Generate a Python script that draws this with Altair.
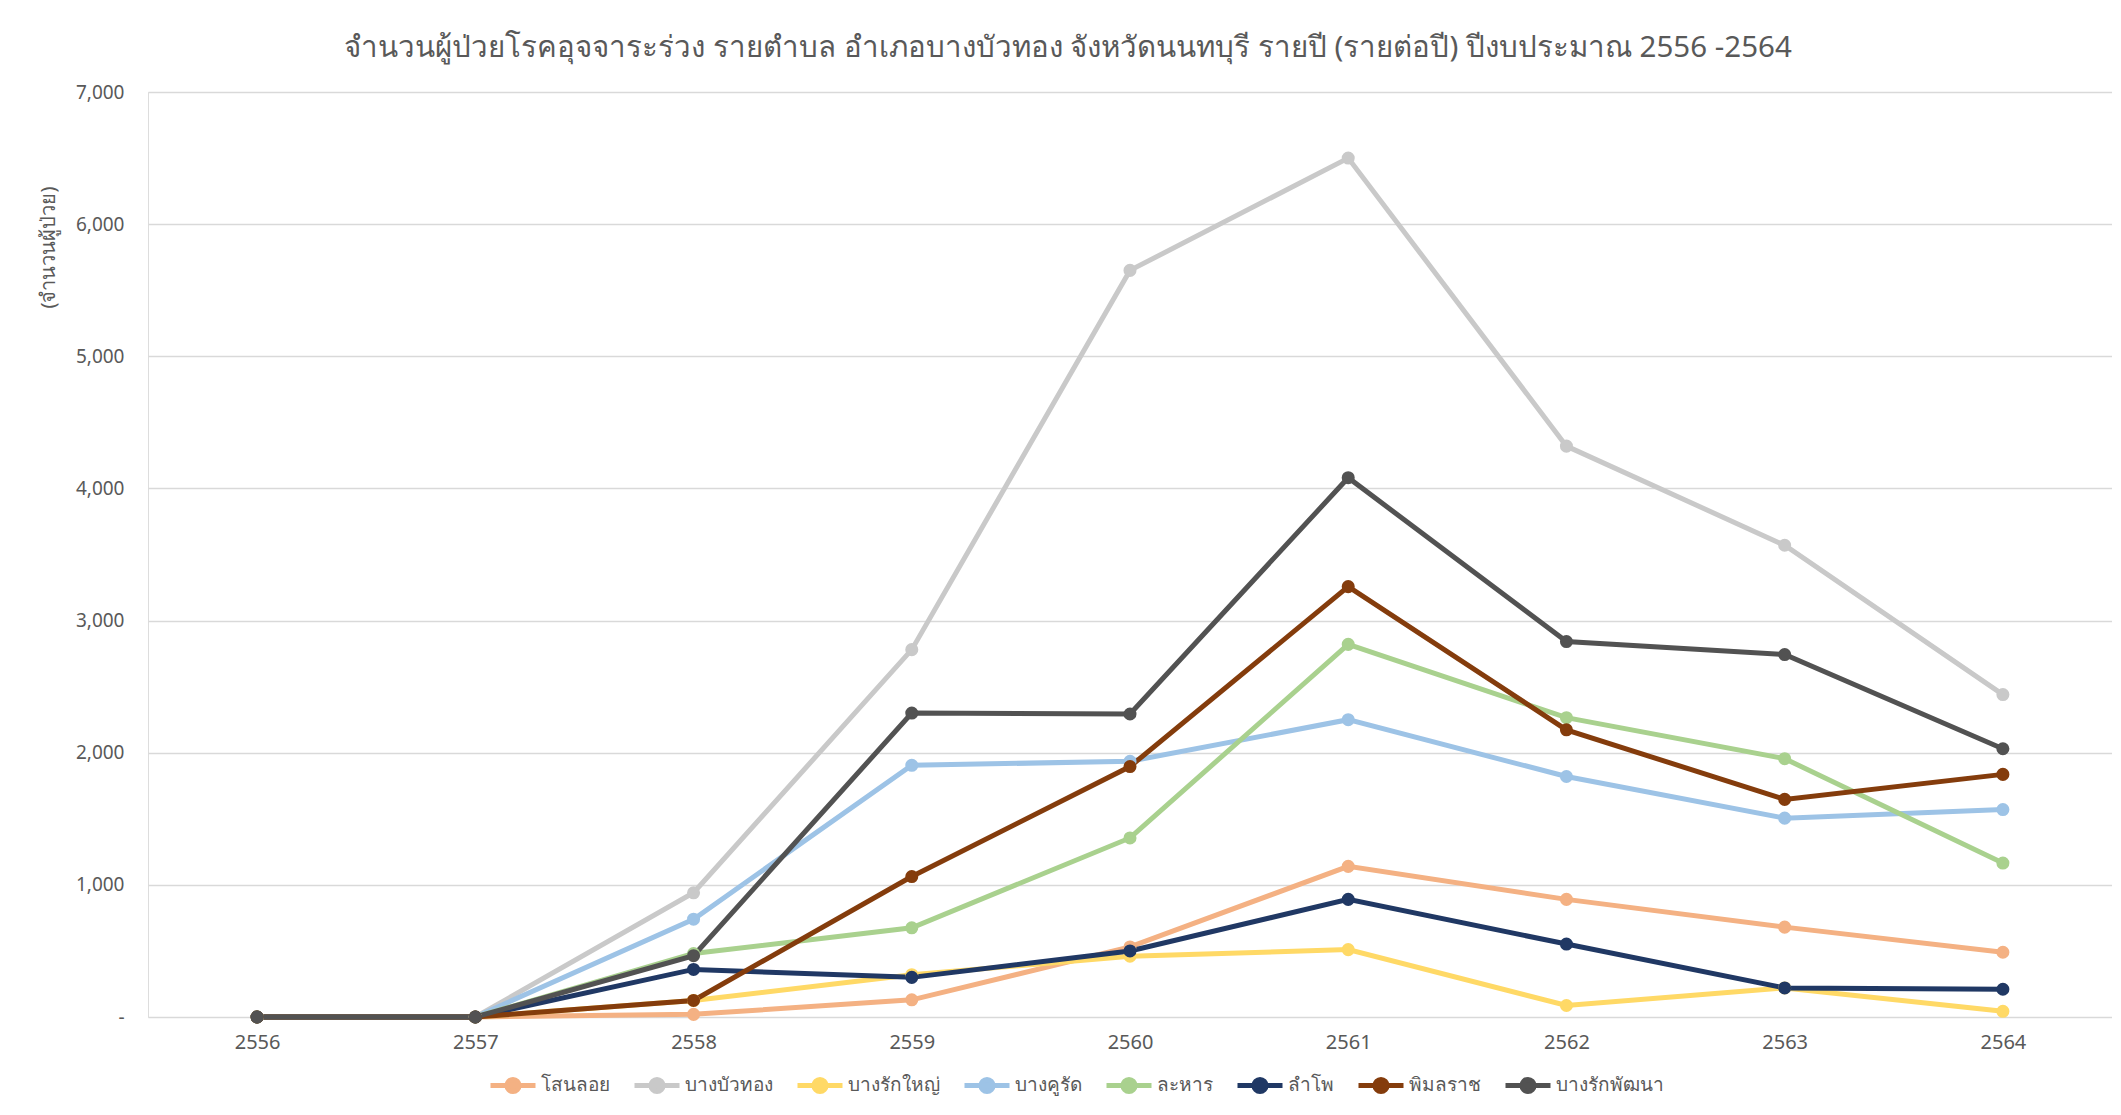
import altair as alt
import pandas as pd

years = ["2556", "2557", "2558", "2559", "2560", "2561", "2562", "2563", "2564"]
series_names = ["โสนลอย", "บางบัวทอง", "บางรักใหญ่", "บางคูรัด", "ละหาร", "ลำโพ", "พิมลราช", "บางรักพัฒนา"]
series_colors = ["#F4B183", "#C9C9C9", "#FFD966", "#9DC3E6", "#A9D18E", "#203864", "#843C0C", "#525252"]

sanonloi = [0, 0, 20, 130, 530, 1140, 890, 680, 490]
bangbuathong = [0, 0, 940, 2780, 5650, 6500, 4320, 3570, 2440]
bangrakyai = [0, 0, 125, 320, 460, 510, 87, 220, 43]
bangkhurat = [0, 0, 740, 1905, 1935, 2250, 1820, 1505, 1570]
lahan = [0, 0, 480, 675, 1355, 2820, 2265, 1955, 1165]
lampho = [0, 0, 360, 300, 500, 890, 552, 220, 210]
phimonrat = [0, 0, 125, 1063, 1895, 3257, 2173, 1647, 1836]
bangrakphatthana = [0, 0, 464, 2300, 2293, 4081, 2841, 2743, 2030]

values = [sanonloi, bangbuathong, bangrakyai, bangkhurat, lahan, lampho, phimonrat, bangrakphatthana]

rows = []
for i, (name, vals) in enumerate(zip(series_names, values)):
    for y, v in zip(years, vals):
        rows.append({"year": y, "value": v, "series": name, "order": i})
df = pd.DataFrame(rows)

FONT = "Noto Sans"
TXT = "#595959"

color = alt.Color(
    "series:N",
    scale=alt.Scale(domain=series_names, range=series_colors),
    sort=series_names,
    legend=alt.Legend(
        title=None,
        orient="none",
        legendX=340,
        legendY=968,
        direction="horizontal",
        columns=8,
        symbolType="M-1,0H1M-0.27,0A0.27,0.27,0,1,1,0.27,0A0.27,0.27,0,1,1,-0.27,0Z",
        symbolSize=2025,
        symbolStrokeWidth=5,
        labelFontSize=19,
        labelFont=FONT,
        labelColor=TXT,
        labelOffset=3,
        columnPadding=14,
    ),
)

x = alt.X(
    "year:O",
    sort=years,
    scale=alt.Scale(type="point", padding=0.5),
    axis=alt.Axis(
        title=None,
        labelAngle=0,
        labelFontSize=20,
        labelFont=FONT,
        labelColor=TXT,
        labelPadding=15,
        ticks=False,
        domain=False,
        grid=False,
    ),
)
y = alt.Y(
    "value:Q",
    scale=alt.Scale(domain=[0, 7000], nice=False),
    axis=alt.Axis(
        title="(จำนวนผู้ป่วย)",
        titleFont=FONT,
        titleFontSize=20,
        titleFontWeight="normal",
        titleColor=TXT,
        titleX=-100,
        titleY=155,
        titleAlign="center",
        titleBaseline="middle",
        titleAngle=270,
        values=[0, 1000, 2000, 3000, 4000, 5000, 6000, 7000],
        labelExpr="datum.value == 0 ? '-' : format(datum.value, ',')",
        labelFontSize=19,
        labelFont=FONT,
        labelColor=TXT,
        labelPadding=24,
        ticks=False,
        domain=False,
        gridColor="#D9D9D9",
        gridWidth=1.3,
    ),
)

base = alt.Chart(df)
lines = base.mark_line(strokeWidth=5).encode(x=x, y=y, color=color, order="order:Q", detail="series:N")
points = base.mark_point(filled=True, size=170, opacity=1).encode(x=x, y=y, color=color)

chart = alt.layer(lines, points).properties(
    width=1964,
    height=925,
    title=alt.TitleParams(
        "จำนวนผู้ป่วยโรคอุจจาระร่วง รายตำบล อำเภอบางบัวทอง จังหวัดนนทบุรี รายปี (รายต่อปี) ปีงบประมาณ 2556 -2564",
        font=FONT,
        fontSize=29.5,
        fontWeight="normal",
        color=TXT,
        anchor="middle",
        dx=-62,
        offset=20,
    ),
    autosize=alt.AutoSizeParams(type="none"),
    padding={"left": 140, "top": 84, "right": 0, "bottom": 92},
).configure_view(stroke=None).configure(background="white")

chart.save("out.html", embed_options={"renderer": "svg", "actions": False})
